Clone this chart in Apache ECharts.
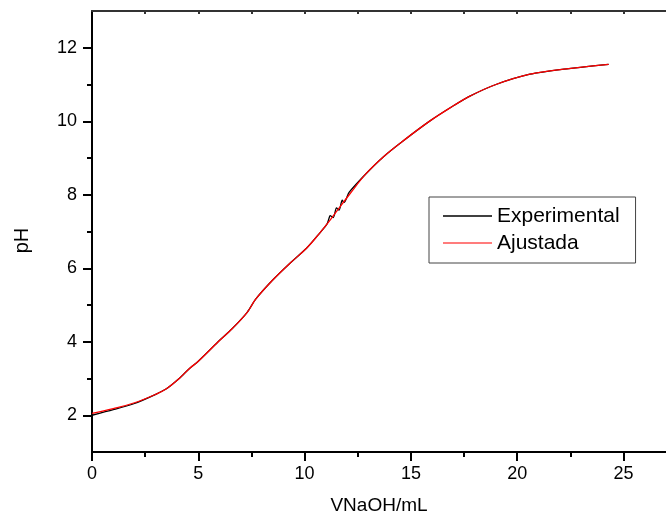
<!DOCTYPE html>
<html>
<head>
<meta charset="utf-8">
<script src="https://cdn.jsdelivr.net/npm/echarts@6/dist/echarts.min.js"></script>
<style>
  html, body { margin: 0; padding: 0; background: #fff; }
  #chart { width: 666px; height: 519px; }
</style>
</head>
<body>
<div id="chart"></div>
<script>
// Titration curve: volume of NaOH added (mL) vs measured pH, with fitted curve
const expVolume = [0, 1.0, 2.0, 3.0, 3.5, 4.1, 4.6, 5.0, 5.9, 6.6, 7.3, 7.7, 8.5, 9.3, 10.1, 10.7, 11.05,
  11.15, 11.2, 11.35, 11.5, 11.62, 11.77, 11.86, 12.1, 12.9, 13.7, 14.6, 15.9, 17.0, 17.8,
  19.0, 20.6, 22.2, 24.3];
const expPH = [2.00, 2.15, 2.32, 2.57, 2.72, 3.00, 3.28, 3.47, 3.98, 4.36, 4.80, 5.16, 5.68, 6.13, 6.55, 6.95, 7.20,
  7.36, 7.43, 7.38, 7.64, 7.58, 7.85, 7.79, 8.07, 8.58, 9.03, 9.45, 10.01, 10.42, 10.69,
  11.00, 11.28, 11.42, 11.55];

const fitVolume = [0, 1.0, 2.0, 3.0, 3.5, 4.1, 4.6, 5.0, 5.9, 6.6, 7.3, 7.7, 8.5, 9.3, 10.1, 10.7, 11.2,
  11.7, 12.1, 12.9, 13.7, 14.6, 15.9, 17.0, 17.8, 19.0, 20.6, 22.2, 24.3];
const fitPH = [2.05, 2.18, 2.34, 2.57, 2.72, 3.00, 3.28, 3.47, 3.98, 4.36, 4.80, 5.16, 5.68, 6.13, 6.55, 6.95, 7.31,
  7.70, 8.00, 8.58, 9.03, 9.45, 10.01, 10.42, 10.69, 11.00, 11.28, 11.42, 11.55];

const xMajorTicks = [0, 5, 10, 15, 20, 25];
const xMinorTicks = [2.5, 7.5, 12.5, 17.5, 22.5];
const xTopTicks = [2.5, 5, 7.5, 10, 12.5, 15, 17.5, 20, 22.5, 25];
const yMajorTicks = [2, 4, 6, 8, 10, 12];
const yMinorTicks = [3, 5, 7, 9, 11];

const FONT = 'Liberation Sans, Arial, Helvetica, sans-serif';

const pairs = (xs, ys) => xs.map((x, i) => [x, ys[i]]);

const chart = echarts.init(document.getElementById('chart'), null, { renderer: 'canvas' });

const tickLine = { color: '#000', width: 2 };

chart.setOption({
  animation: false,
  backgroundColor: '#fff',
  grid: { left: 92, top: 11, right: 0, bottom: 67, containLabel: false, outerBoundsMode: 'none' },
  legend: {
    orient: 'vertical',
    left: 429,
    top: 197,
    padding: [8, 16, 9, 14],
    itemWidth: 49,
    itemHeight: 1.3,
    itemGap: 5,
    icon: 'rect',
    borderColor: '#444',
    borderWidth: 1,
    textStyle: { fontFamily: FONT, fontSize: 21, lineHeight: 22, color: '#000' },
    data: [
      { name: 'Experimental', itemStyle: { color: '#000' } },
      { name: 'Ajustada', itemStyle: { color: '#ff5050' } }
    ]
  },
  xAxis: [
    {
      type: 'value',
      position: 'bottom',
      min: 0,
      max: 27,
      interval: 5,
      name: 'VNaOH/mL',
      nameLocation: 'middle',
      nameGap: 44,
      nameTextStyle: { fontFamily: FONT, fontSize: 19, color: '#000' },
      axisLine: { show: true, onZero: false, lineStyle: tickLine },
      axisTick: { show: true, inside: false, length: 9, customValues: xMajorTicks, lineStyle: tickLine },
      axisLabel: { fontFamily: FONT, fontSize: 18, color: '#000', margin: 13, customValues: xMajorTicks },
      splitLine: { show: false }
    },
    {
      // minor ticks of the bottom axis
      type: 'value',
      position: 'bottom',
      min: 0,
      max: 27,
      interval: 5,
      axisLine: { show: false },
      axisTick: { show: true, inside: false, length: 5, customValues: xMinorTicks, lineStyle: tickLine },
      axisLabel: { show: false },
      splitLine: { show: false }
    },
    {
      // frame along the top with inward ticks
      type: 'value',
      position: 'top',
      min: 0,
      max: 27,
      interval: 5,
      axisLine: { show: true, onZero: false, lineStyle: { color: '#333', width: 2 } },
      axisTick: { show: true, inside: true, length: 3, customValues: xTopTicks, lineStyle: { color: '#333', width: 2 } },
      axisLabel: { show: false },
      splitLine: { show: false }
    }
  ],
  yAxis: [
    {
      type: 'value',
      position: 'left',
      min: 1,
      max: 13,
      interval: 1,
      name: 'pH',
      nameLocation: 'middle',
      nameGap: 60,
      nameRotate: 90,
      nameTextStyle: { fontFamily: FONT, fontSize: 20, color: '#000', padding: [0, 18, 0, 0] },
      axisLine: { show: true, onZero: false, lineStyle: tickLine },
      axisTick: { show: true, inside: false, length: 9, customValues: yMajorTicks, lineStyle: tickLine },
      axisLabel: { fontFamily: FONT, fontSize: 18, color: '#000', margin: 15, customValues: yMajorTicks },
      splitLine: { show: false }
    },
    {
      // minor ticks of the pH axis
      type: 'value',
      position: 'left',
      min: 1,
      max: 13,
      interval: 1,
      axisLine: { show: false },
      axisTick: { show: true, inside: false, length: 5, customValues: yMinorTicks, lineStyle: tickLine },
      axisLabel: { show: false },
      splitLine: { show: false }
    }
  ],
  series: [
    {
      name: 'Experimental',
      type: 'line',
      xAxisIndex: 0,
      yAxisIndex: 0,
      data: pairs(expVolume, expPH),
      symbol: 'none',
      smooth: 0.25,
      lineStyle: { color: '#000', width: 1.3 },
      itemStyle: { color: '#000' },
      z: 2
    },
    {
      name: 'Ajustada',
      type: 'line',
      xAxisIndex: 0,
      yAxisIndex: 0,
      data: pairs(fitVolume, fitPH),
      symbol: 'none',
      smooth: 0.4,
      lineStyle: { color: '#ff0000', width: 1.3 },
      itemStyle: { color: '#ff0000' },
      z: 3
    }
  ]
});
</script>
</body>
</html>
